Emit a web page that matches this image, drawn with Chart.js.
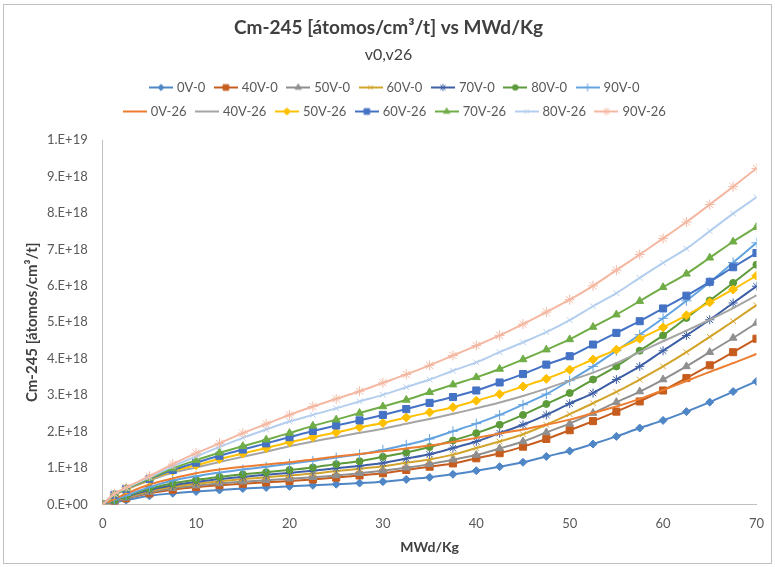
<!DOCTYPE html>
<html>
<head>
<meta charset="utf-8">
<script src="https://cdn.jsdelivr.net/npm/chart.js@4.4.0/dist/chart.umd.min.js"></script>
<style>
  html, body { margin: 0; padding: 0; background: #fff; }
  #wrap { width: 775px; height: 567px; position: relative; }
</style>
</head>
<body>
<div id="wrap"><canvas id="cmChart"></canvas></div>
<script>
// Burnup steps (MWd/Kg)
const burnup = [0, 1.25, 2.5, 5, 7.5, 10, 12.5, 15, 17.5, 20, 22.5, 25, 27.5, 30, 32.5, 35,
    37.5, 40, 42.5, 45, 47.5, 50, 52.5, 55, 57.5, 60, 62.5, 65, 67.5, 70];

// Cm-245 concentration, in units of 1E+18 atomos/cm3/t
const UNIT = 1e18;
const cm0V0 = [0, 0.06, 0.12, 0.24, 0.31, 0.36, 0.40, 0.44, 0.47, 0.50, 0.53, 0.56, 0.59, 0.63, 0.69,
    0.75, 0.83, 0.93, 1.04, 1.16, 1.32, 1.47, 1.66, 1.87, 2.10, 2.31, 2.55, 2.81, 3.10, 3.38];
const cm40V0 = [0, 0.08, 0.17, 0.31, 0.41, 0.48, 0.53, 0.57, 0.61, 0.65, 0.69, 0.74, 0.80, 0.86, 0.95,
    1.04, 1.13, 1.27, 1.41, 1.59, 1.80, 2.04, 2.29, 2.55, 2.83, 3.13, 3.47, 3.82, 4.18, 4.55];
const cm50V0 = [0, 0.09, 0.18, 0.34, 0.45, 0.52, 0.58, 0.63, 0.67, 0.71, 0.75, 0.80, 0.86, 0.93, 1.01,
    1.11, 1.23, 1.36, 1.54, 1.73, 1.98, 2.22, 2.51, 2.81, 3.10, 3.43, 3.79, 4.18, 4.57, 4.98];
const cm60V0 = [0, 0.10, 0.20, 0.37, 0.49, 0.57, 0.64, 0.70, 0.75, 0.80, 0.85, 0.92, 0.98, 1.05, 1.15,
    1.24, 1.37, 1.55, 1.73, 1.93, 2.19, 2.48, 2.78, 3.09, 3.43, 3.79, 4.18, 4.60, 5.03, 5.47];
const cm70V0 = [0, 0.11, 0.22, 0.40, 0.53, 0.62, 0.70, 0.76, 0.82, 0.87, 0.93, 1.00, 1.06, 1.14, 1.26,
    1.38, 1.55, 1.73, 1.96, 2.19, 2.46, 2.77, 3.06, 3.43, 3.79, 4.22, 4.64, 5.07, 5.53, 5.99];
const cm80V0 = [0, 0.12, 0.23, 0.44, 0.58, 0.68, 0.76, 0.83, 0.89, 0.95, 1.02, 1.11, 1.19, 1.31, 1.43,
    1.58, 1.76, 1.96, 2.19, 2.46, 2.76, 3.06, 3.43, 3.79, 4.22, 4.64, 5.12, 5.60, 6.08, 6.58];
const cm90V0 = [0, 0.13, 0.25, 0.48, 0.66, 0.78, 0.88, 0.96, 1.04, 1.12, 1.20, 1.29, 1.38, 1.50, 1.64,
    1.80, 2.01, 2.22, 2.46, 2.74, 3.03, 3.40, 3.79, 4.22, 4.66, 5.11, 5.59, 6.10, 6.64, 7.18];
const cm0V26 = [0, 0.15, 0.30, 0.55, 0.72, 0.86, 0.96, 1.04, 1.10, 1.16, 1.24, 1.32, 1.39, 1.46, 1.54,
    1.62, 1.72, 1.83, 1.95, 2.06, 2.19, 2.33, 2.51, 2.69, 2.90, 3.14, 3.39, 3.64, 3.88, 4.13];
const cm40V26 = [0, 0.25, 0.41, 0.66, 0.88, 1.02, 1.17, 1.31, 1.45, 1.60, 1.73, 1.85, 1.97, 2.08, 2.22,
    2.35, 2.49, 2.64, 2.80, 2.98, 3.18, 3.40, 3.62, 3.88, 4.18, 4.48, 4.77, 5.07, 5.39, 5.74];
const cm50V26 = [0, 0.26, 0.42, 0.68, 0.92, 1.08, 1.25, 1.40, 1.55, 1.71, 1.85, 1.98, 2.12, 2.24, 2.39,
    2.53, 2.67, 2.85, 3.03, 3.24, 3.45, 3.70, 3.98, 4.25, 4.55, 4.86, 5.19, 5.55, 5.90, 6.28];
const cm60V26 = [0, 0.27, 0.43, 0.70, 0.95, 1.15, 1.34, 1.51, 1.68, 1.85, 2.02, 2.17, 2.31, 2.46, 2.62,
    2.79, 2.95, 3.13, 3.35, 3.58, 3.84, 4.07, 4.39, 4.71, 5.03, 5.38, 5.73, 6.11, 6.51, 6.90];
const cm70V26 = [0, 0.28, 0.44, 0.72, 0.99, 1.22, 1.42, 1.60, 1.78, 1.96, 2.16, 2.33, 2.51, 2.69, 2.87,
    3.08, 3.29, 3.49, 3.72, 3.98, 4.25, 4.53, 4.87, 5.21, 5.58, 5.96, 6.33, 6.77, 7.21, 7.61];
const cm80V26 = [0, 0.29, 0.45, 0.75, 1.05, 1.32, 1.58, 1.83, 2.06, 2.28, 2.46, 2.64, 2.83, 3.01, 3.22,
    3.43, 3.67, 3.90, 4.18, 4.45, 4.73, 5.06, 5.44, 5.80, 6.22, 6.63, 7.02, 7.50, 7.98, 8.43];
const cm90V26 = [0, 0.30, 0.47, 0.78, 1.11, 1.41, 1.68, 1.96, 2.21, 2.46, 2.69, 2.90, 3.11, 3.34, 3.57,
    3.82, 4.09, 4.36, 4.64, 4.95, 5.28, 5.62, 6.00, 6.43, 6.86, 7.30, 7.75, 8.23, 8.72, 9.22];

const seriesNames = ['0V-0', '40V-0', '50V-0', '60V-0', '70V-0', '80V-0', '90V-0',
    '0V-26', '40V-26', '50V-26', '60V-26', '70V-26', '80V-26', '90V-26'];
const seriesValues = [cm0V0, cm40V0, cm50V0, cm60V0, cm70V0, cm80V0, cm90V0,
    cm0V26, cm40V26, cm50V26, cm60V26, cm70V26, cm80V26, cm90V26];

// Excel-like look: colour, marker, marker radius
const styles = [
    ['#4F86C6', 'rectRot', 4],
    ['#C65D1E', 'rect', 5],
    ['#8F8F8F', 'triangle', 4.5],
    ['#D2A42B', 'crossRot', 4],
    ['#3E5FA6', 'star', 4.5],
    ['#5C9A3A', 'circle', 3.5],
    ['#62A3E0', 'cross', 5],
    ['#ED7D31', 'line', 2],
    ['#A5A5A5', 'line', 2],
    ['#FFC000', 'rectRot', 4.5],
    ['#4472C4', 'rect', 5],
    ['#70AD47', 'triangle', 4.5],
    ['#B4CEEE', 'crossRot', 4],
    ['#F4B8A2', 'star', 5]
];

const FONT = 'Lato, "Open Sans", sans-serif';
const LEGEND_WIDTH = 570;
const LEGEND_SHIFT = 7;

// small line+marker picture for the legend
function makeSwatch(color, pointStyle, radius) {
    const c = document.createElement('canvas');
    c.width = 24;
    c.height = 12;
    const g = c.getContext('2d');
    g.strokeStyle = color;
    g.fillStyle = color;
    g.lineWidth = 2;
    g.beginPath();
    g.moveTo(0, 6);
    g.lineTo(24, 6);
    g.stroke();
    g.lineWidth = 1;
    Chart.helpers.drawPoint(g, { pointStyle: pointStyle, radius: radius * 0.8, borderWidth: 1, rotation: 0 }, 12, 6);
    return c;
}
const swatches = styles.map(s => makeSwatch(s[0], s[1], s[2]));

const datasets = seriesNames.map((name, i) => ({
    label: name,
    data: burnup.map((x, k) => ({ x: x, y: seriesValues[i][k] * UNIT })),
    showLine: true,
    borderColor: styles[i][0],
    backgroundColor: styles[i][0],
    borderWidth: 2,
    pointStyle: styles[i][1],
    pointRadius: styles[i][2],
    pointBorderWidth: 1,
    tension: 0.3,
    order: seriesNames.length - i   // later series on top, like Excel
}));

function sciLabel(v) {
    const parts = Number(v).toExponential(0).split('e');
    const exp = parts[1];
    return parts[0] + '.E' + exp[0] + exp.slice(1).padStart(2, '0');
}

// keep the legend at 7 items per row, centred, with a gap under it
const legendRows = {
    id: 'legendRows',
    beforeLayout(chart) {
        const legend = chart.legend;
        if (!legend || legend._rowsPatched) return;
        const update = legend.update;
        legend.update = function (maxWidth, maxHeight, margins) {
            update.call(this, Math.min(maxWidth, LEGEND_WIDTH), maxHeight, margins);
            this.height += 12;
        };
        legend._rowsPatched = true;
    },
    afterLayout(chart) {
        const legend = chart.legend;
        const mid = (legend.left + legend.right) / 2 + LEGEND_SHIFT;
        legend.left = mid - LEGEND_WIDTH / 2;
        legend.right = mid + LEGEND_WIDTH / 2;
        legend.width = LEGEND_WIDTH;
    }
};

const frame = {
    id: 'frame',
    beforeDraw(chart) {
        const { ctx, width, height } = chart;
        ctx.save();
        ctx.fillStyle = '#fff';
        ctx.fillRect(0, 0, width, height);
        ctx.strokeStyle = '#BFBFBF';
        ctx.lineWidth = 1;
        ctx.strokeRect(3.5, 4.5, width - 7, height - 8);
        ctx.restore();
    }
};

const ctx = document.getElementById('cmChart').getContext('2d');
const cmChart = new Chart(ctx, {
    type: 'scatter',
    data: { datasets: datasets },
    options: {
        responsive: true,
        maintainAspectRatio: false,
        animation: false,
        layout: { padding: { top: 6, left: 14, right: 12, bottom: 8 } },
        plugins: {
            title: {
                display: true,
                text: 'Cm-245 [átomos/cm³/t] vs MWd/Kg',
                color: '#404040',
                font: { family: FONT, size: 19, weight: 'bold' },
                padding: { top: 10, bottom: 6 }
            },
            subtitle: {
                display: true,
                text: 'v0,v26',
                color: '#404040',
                font: { family: FONT, size: 16 },
                padding: { top: 0, bottom: 6 }
            },
            legend: {
                position: 'top',
                labels: {
                    usePointStyle: true,
                    pointStyleWidth: 19,
                    padding: 11,
                    color: '#595959',
                    font: { family: FONT, size: 13 },
                    sort: (a, b) => a.datasetIndex - b.datasetIndex,
                    generateLabels: chart => Chart.defaults.plugins.legend.labels.generateLabels(chart)
                        .map(item => Object.assign(item, { pointStyle: swatches[item.datasetIndex] }))
                }
            },
            tooltip: { enabled: false }
        },
        scales: {
            x: {
                type: 'linear',
                min: 0,
                max: 70,
                ticks: { stepSize: 10, padding: 11, color: '#595959', font: { family: FONT, size: 13 } },
                grid: { display: false, drawTicks: false },
                border: { color: '#BFBFBF' },
                title: {
                    display: true,
                    text: 'MWd/Kg',
                    color: '#404040',
                    font: { family: FONT, size: 14, weight: 'bold' },
                    padding: { top: -3, bottom: 3 }
                }
            },
            y: {
                min: 0,
                max: 1e19,
                ticks: { stepSize: 1e18, padding: 15, color: '#595959', font: { family: FONT, size: 13 }, callback: sciLabel },
                grid: { display: false, drawTicks: false },
                border: { color: '#BFBFBF' },
                title: {
                    display: true,
                    text: 'Cm-245 [átomos/cm³/t]',
                    color: '#404040',
                    font: { family: FONT, size: 15, weight: 'bold' },
                    padding: { top: 9, bottom: -9 }
                }
            }
        }
    },
    plugins: [legendRows, frame]
});
</script>
</body>
</html>
